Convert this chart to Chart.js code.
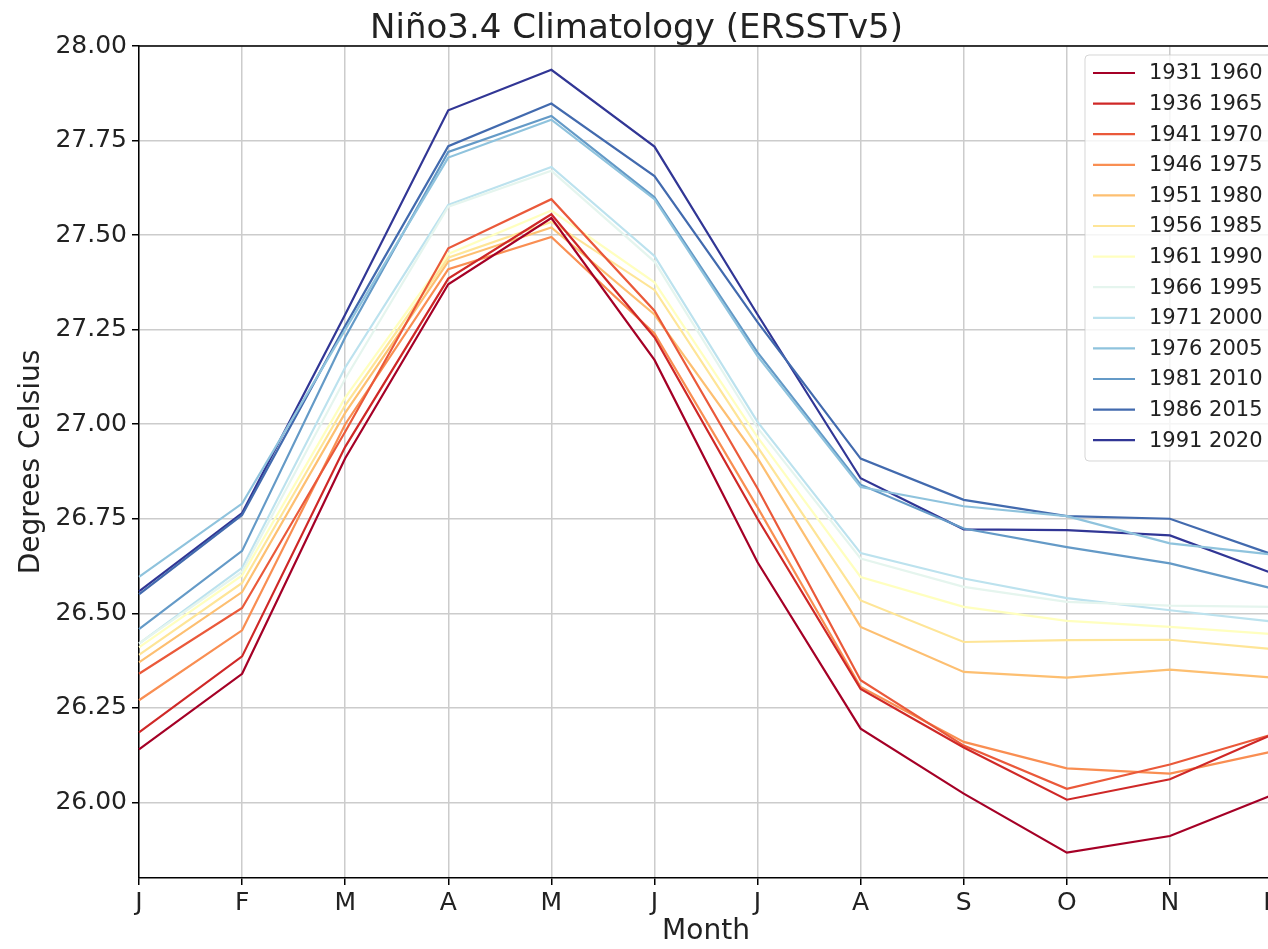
<!DOCTYPE html>
<html>
<head>
<meta charset="utf-8">
<script src="https://cdn.jsdelivr.net/npm/chart.js@4.4.0/dist/chart.umd.min.js"></script>
<style>
html, body { margin: 0; padding: 0; background: #fff; overflow: hidden; }
#wrap { width: 1412px; height: 949px; }
</style>
</head>
<body>
<div id="wrap"><canvas id="graph" width="1412" height="949"></canvas></div>
<script>
'use strict';

// 月ラベル
const months = ['J', 'F', 'M', 'A', 'M', 'J', 'J', 'A', 'S', 'O', 'N', 'D'];
// y軸の目盛り
const yTicks = [26.00, 26.25, 26.50, 26.75, 27.00, 27.25, 27.50, 27.75, 28.00];

// 期間ごとの気候値 (℃)
const sst1931_1960 = [26.14, 26.34, 26.91, 27.37, 27.545, 27.17, 26.635, 26.195, 26.023, 25.867, 25.911, 26.02];
const sst1936_1965 = [26.185, 26.386, 26.94, 27.385, 27.555, 27.23, 26.75, 26.30, 26.145, 26.007, 26.061, 26.18];
const sst1941_1970 = [26.34, 26.514, 26.98, 27.465, 27.595, 27.30, 26.83, 26.323, 26.15, 26.036, 26.10, 26.18];
const sst1946_1975 = [26.27, 26.455, 27.00, 27.41, 27.495, 27.24, 26.78, 26.305, 26.16, 26.09, 26.076, 26.135];
const sst1951_1980 = [26.37, 26.556, 27.03, 27.43, 27.52, 27.29, 26.91, 26.464, 26.345, 26.33, 26.351, 26.33];
const sst1956_1985 = [26.39, 26.58, 27.05, 27.44, 27.535, 27.355, 26.94, 26.534, 26.424, 26.429, 26.43, 26.405];
const sst1961_1990 = [26.41, 26.60, 27.07, 27.45, 27.565, 27.375, 26.966, 26.596, 26.517, 26.48, 26.464, 26.445];
const sst1966_1995 = [26.42, 26.61, 27.12, 27.575, 27.67, 27.43, 26.99, 26.645, 26.57, 26.53, 26.52, 26.517];
const sst1971_2000 = [26.42, 26.62, 27.15, 27.58, 27.68, 27.445, 27.006, 26.659, 26.592, 26.54, 26.508, 26.478];
const sst1976_2005 = [26.596, 26.79, 27.25, 27.705, 27.805, 27.595, 27.18, 26.834, 26.783, 26.757, 26.685, 26.655];
const sst1981_2010 = [26.458, 26.665, 27.23, 27.72, 27.815, 27.60, 27.19, 26.84, 26.724, 26.675, 26.632, 26.565];
const sst1986_2015 = [26.55, 26.76, 27.26, 27.735, 27.848, 27.656, 27.27, 26.909, 26.80, 26.757, 26.75, 26.655];
const sst1991_2020 = [26.558, 26.765, 27.29, 27.83, 27.937, 27.734, 27.29, 26.857, 26.722, 26.72, 26.706, 26.605];

const periods = ['1931 1960', '1936 1965', '1941 1970', '1946 1975', '1951 1980', '1956 1985', '1961 1990',
    '1966 1995', '1971 2000', '1976 2005', '1981 2010', '1986 2015', '1991 2020'];
const series = [sst1931_1960, sst1936_1965, sst1941_1970, sst1946_1975, sst1951_1980, sst1956_1985, sst1961_1990,
    sst1966_1995, sst1971_2000, sst1976_2005, sst1981_2010, sst1986_2015, sst1991_2020];
// RdYlBu カラーマップ
const colors = ['#a50026', '#cf2827', '#ea593a', '#f98e52', '#fdbf71', '#fee597', '#ffffbf',
    '#e5f5ee', '#bce2ee', '#8fc3dd', '#649ac7', '#426aae', '#313695'];

const FONT = 'DejaVu Sans';

let datasets = [];
for (let i = 0; i < series.length; i++) {
    datasets.push({
        label: periods[i],
        data: series[i],
        borderColor: colors[i],
        backgroundColor: colors[i],
        borderWidth: 2.2,
        pointRadius: 0,
        tension: 0,
        fill: false
    });
}

// 枠線と凡例をグラフの中に描く
const framePlugin = {
    id: 'frame',
    afterDatasetsDraw(chart) {
        const ctx = chart.ctx;
        const a = chart.chartArea;
        ctx.save();
        ctx.strokeStyle = '#000';
        ctx.lineWidth = 1.5;
        ctx.beginPath();
        ctx.moveTo(a.left, a.top);
        ctx.lineTo(a.right, a.top);
        ctx.lineTo(a.right, a.bottom);
        ctx.stroke();
        ctx.restore();
    },
    afterDraw(chart) {
        const ctx = chart.ctx;
        const ds = chart.data.datasets;
        const x0 = 1085, y0 = 55, w = 200, h = 406, r = 4;
        ctx.save();
        ctx.beginPath();
        ctx.roundRect(x0, y0, w, h, r);
        ctx.fillStyle = 'rgba(255,255,255,0.8)';
        ctx.fill();
        ctx.strokeStyle = 'rgba(204,204,204,0.8)';
        ctx.lineWidth = 1;
        ctx.stroke();
        ctx.font = '21px "' + FONT + '"';
        ctx.textBaseline = 'middle';
        ctx.fillStyle = '#222';
        for (let i = 0; i < ds.length; i++) {
            const y = 73 + i * 30.6;
            ctx.strokeStyle = ds[i].borderColor;
            ctx.lineWidth = 2.2;
            ctx.beginPath();
            ctx.moveTo(1093, y);
            ctx.lineTo(1135, y);
            ctx.stroke();
            ctx.fillText(ds[i].label, 1149, y + 1);
        }
        ctx.restore();
    }
};

let context = document.querySelector('#graph').getContext('2d');
let chart = new Chart(context, {
    type: 'line',
    data: { labels: months, datasets: datasets },
    plugins: [framePlugin],
    options: {
        responsive: false,
        animation: false,
        devicePixelRatio: 1,
        layout: { padding: { left: 0, right: 139, top: 0, bottom: 0 } },
        plugins: {
            legend: { display: false },
            tooltip: { enabled: false },
            title: {
                display: true,
                text: 'Niño3.4 Climatology (ERSSTv5)',
                color: '#222',
                font: { family: FONT, size: 34, weight: 'normal', lineHeight: 1.0 },
                padding: { top: 12, bottom: 0 }
            }
        },
        scales: {
            x: {
                offset: false,
                grid: { color: '#cccccc', lineWidth: 1.5, tickColor: '#000', tickLength: 7 },
                border: { color: '#000', width: 1.5 },
                ticks: {
                    color: '#222', autoSkip: false, maxRotation: 0, padding: 3,
                    font: { family: FONT, size: 25 }
                },
                title: {
                    display: true, text: 'Month', color: '#222',
                    font: { family: FONT, size: 28 },
                    padding: { top: 0, bottom: 0 }
                },
                afterFit(scale) { scale.height = 71; }
            },
            y: {
                min: 25.8,
                max: 28.0,
                grid: { color: '#cccccc', lineWidth: 1.5, tickColor: '#000', tickLength: 7 },
                border: { color: '#000', width: 1.5 },
                ticks: {
                    color: '#222', padding: 5,
                    font: { family: FONT, size: 25 },
                    callback: function (v) { return Number(v).toFixed(2); }
                },
                afterBuildTicks(scale) {
                    scale.ticks = yTicks.map(function (v) { return { value: v }; });
                },
                title: {
                    display: true, text: 'Degrees Celsius', color: '#222',
                    font: { family: FONT, size: 28 },
                    padding: { top: 15, bottom: 0 }
                },
                afterFit(scale) { scale.width = 139; }
            }
        }
    }
});
</script>
</body>
</html>
